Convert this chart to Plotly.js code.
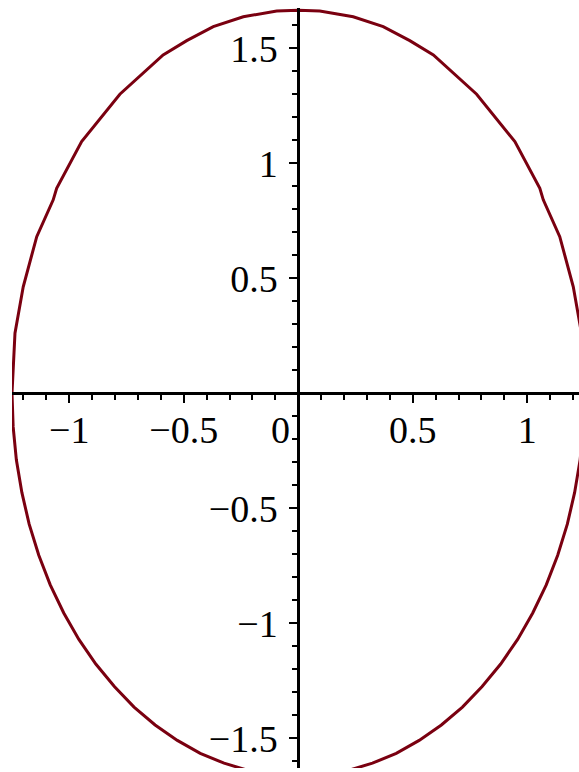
<!DOCTYPE html>
<html>
<head>
<meta charset="utf-8">
<script src="https://cdn.plot.ly/plotly-3.0.1.min.js"></script>
<style>html,body{margin:0;padding:0;background:#fff;}#plot{width:579px;height:772px;}</style>
</head>
<body>
<div id="plot"></div>
<script>
// Curve points (upper half: coarse vertices, lower half: smooth)
const curveX = [1.25, 1.237, 1.201, 1.142, 1.070, 1.055, 0.946, 0.779, 0.590, 0.487, 0.371, 0.240, 0.094, 0.0,
  -0.094, -0.240, -0.371, -0.487, -0.590, -0.779, -0.946, -1.055, -1.070, -1.142, -1.201, -1.237, -1.25,
  -1.245, -1.231, -1.207, -1.175, -1.133, -1.083, -1.024, -0.958, -0.884, -0.803, -0.717, -0.625, -0.528, -0.428, -0.324, -0.217, -0.109, 0.0,
  0.109, 0.217, 0.324, 0.428, 0.528, 0.625, 0.717, 0.803, 0.884, 0.958, 1.024, 1.083, 1.133, 1.175, 1.207, 1.231, 1.245, 1.25];
const curveY = [0.0, 0.261, 0.463, 0.681, 0.841, 0.891, 1.094, 1.300, 1.471, 1.533, 1.594, 1.637, 1.662, 1.665,
  1.662, 1.637, 1.594, 1.533, 1.471, 1.300, 1.094, 0.891, 0.841, 0.681, 0.463, 0.261, 0.0,
  -0.145, -0.289, -0.431, -0.569, -0.704, -0.833, -0.955, -1.070, -1.177, -1.275, -1.364, -1.442, -1.509, -1.565, -1.608, -1.640, -1.659, -1.665,
  -1.659, -1.640, -1.608, -1.565, -1.509, -1.442, -1.364, -1.275, -1.177, -1.070, -0.955, -0.833, -0.704, -0.569, -0.431, -0.289, -0.145, 0.0];

const xTickVals = [-1, -0.5, 0.5, 1];
const xTickText = ["\u22121", "\u22120.5", "0.5", "1"];
const yTickVals = [-1.5, -1, -0.5, 0.5, 1, 1.5];
const yTickText = ["\u22121.5", "\u22121", "\u22120.5", "0.5", "1", "1.5"];
const originLabel = "0";

const xRange = [-1.25, 1.226];
const yRange = [-1.629, 1.675];

const tickFont = {family: "Liberation Serif, Times New Roman, serif", size: 38, color: "#000"};

const trace = {
  x: curveX, y: curveY, type: "scatter", mode: "lines",
  line: {color: "#7a0010", width: 3}, hoverinfo: "skip"
};

const layout = {
  width: 579, height: 772,
  margin: {l: 12, r: 0, t: 8, b: 4},
  paper_bgcolor: "#fff", plot_bgcolor: "#fff",
  showlegend: false,
  xaxis: {
    range: xRange, anchor: "free",
    position: (0 - yRange[0]) / (yRange[1] - yRange[0]),
    showline: true, linecolor: "#000", linewidth: 3,
    showgrid: false, zeroline: false,
    tickmode: "array", tickvals: xTickVals, ticktext: xTickText,
    ticks: "outside", ticklen: 8, tickwidth: 2, tickcolor: "#000",
    ticklabelstandoff: -6,
    minor: {tickmode: "linear", tick0: 0, dtick: 0.1, ticks: "outside", ticklen: 5, tickwidth: 2, tickcolor: "#000", showgrid: false},
    tickfont: tickFont, fixedrange: true
  },
  yaxis: {
    range: yRange, anchor: "free",
    position: (0 - xRange[0]) / (xRange[1] - xRange[0]),
    showline: true, linecolor: "#000", linewidth: 3,
    showgrid: false, zeroline: false,
    tickmode: "array", tickvals: yTickVals, ticktext: yTickText,
    ticks: "outside", ticklen: 8, tickwidth: 2, tickcolor: "#000",
    ticklabelstandoff: 4,
    minor: {tickmode: "linear", tick0: 0, dtick: 0.1, ticks: "outside", ticklen: 5, tickwidth: 2, tickcolor: "#000", showgrid: false},
    tickfont: tickFont, fixedrange: true
  },
  annotations: [{
    x: 0, y: 0, xref: "x", yref: "y", text: originLabel, showarrow: false,
    xanchor: "right", yanchor: "top", xshift: -6, yshift: -14, font: tickFont
  }]
};

Plotly.newPlot("plot", [trace], layout, {displayModeBar: false, staticPlot: true});
</script>
</body>
</html>
